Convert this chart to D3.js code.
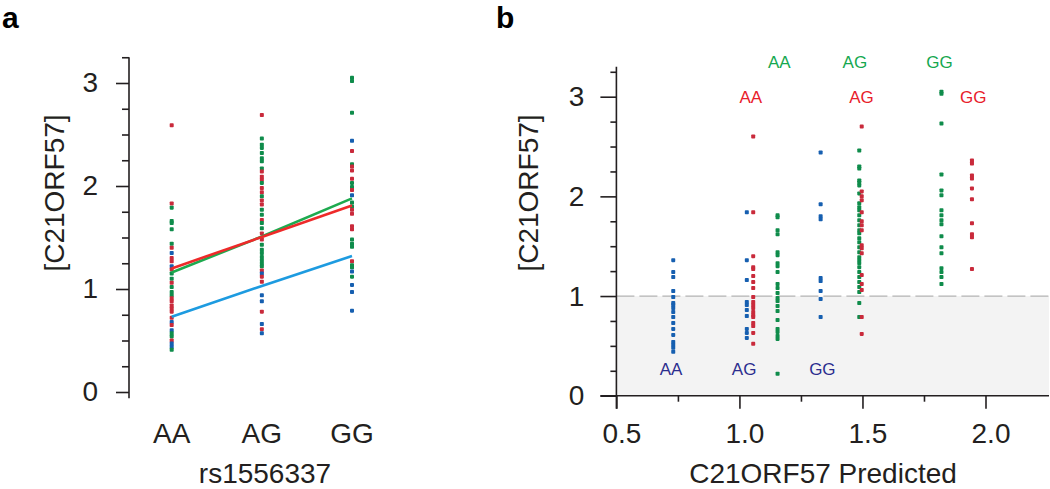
<!DOCTYPE html>
<html>
<head>
<meta charset="utf-8">
<script src="https://cdn.jsdelivr.net/npm/d3@7"></script>
<style>
body { margin: 0; background: #fff; }
svg { display: block; font-family: "Liberation Sans", Arial, sans-serif; }
.axis text { font-size: 28px; fill: #231f20; font-family: "Liberation Sans", Arial, sans-serif; }
.axis line { stroke: #231f20; stroke-width: 1.6; }
.axis path { display: none; }
</style>
</head>
<body>
<script>
// genotypes of rs1556337
var genotypes = ["AA", "AG", "GG"];

// panel a: measured values per genotype, [value, group]  (r = red, g = green, b = blue)
var aAA = [[2.59,"r"],[1.83,"r"],[1.79,"g"],[1.66,"g"],[1.64,"g"],[1.58,"g"],[1.44,"g"],[1.40,"r"],[1.35,"b"],[1.30,"r"],
           [1.27,"r"],[1.22,"b"],[1.19,"r"],[1.15,"g"],[1.10,"g"],[1.06,"r"],[1.02,"g"],[0.97,"g"],[0.94,"g"],[0.91,"r"],
           [0.88,"r"],[0.84,"r"],[0.81,"r"],[0.78,"r"],[0.72,"r"],[0.68,"b"],[0.65,"r"],[0.60,"b"],[0.57,"g"],[0.54,"g"],
           [0.50,"r"],[0.47,"b"],[0.44,"b"],[0.41,"g"]];
var aAG = [[2.69,"r"],[2.46,"g"],[2.40,"g"],[2.37,"g"],[2.32,"g"],[2.27,"g"],[2.24,"g"],[2.17,"g"],[2.14,"r"],[2.09,"r"],
           [2.06,"r"],[2.03,"g"],[1.98,"r"],[1.94,"r"],[1.90,"g"],[1.86,"r"],[1.82,"r"],[1.77,"g"],[1.72,"g"],[1.67,"r"],
           [1.64,"g"],[1.59,"g"],[1.54,"r"],[1.48,"r"],[1.43,"g"],[1.38,"g"],[1.35,"g"],[1.31,"g"],[1.28,"g"],[1.25,"g"],
           [1.22,"g"],[1.18,"r"],[1.15,"b"],[1.12,"r"],[1.07,"r"],[0.94,"b"],[0.88,"b"],[0.78,"r"],[0.66,"b"],[0.61,"r"],[0.57,"b"]];
var aGG = [[3.05,"g"],[3.02,"g"],[2.71,"g"],[2.44,"b"],[2.34,"r"],[2.21,"g"],[2.19,"r"],[2.15,"r"],[2.07,"r"],[2.03,"g"],
           [1.99,"g"],[1.96,"r"],[1.91,"b"],[1.84,"g"],[1.80,"g"],[1.77,"r"],[1.73,"r"],[1.61,"r"],[1.58,"r"],[1.48,"g"],
           [1.44,"g"],[1.41,"g"],[1.27,"r"],[1.23,"g"],[1.21,"g"],[1.17,"b"],[1.12,"g"],[1.04,"b"],[0.97,"b"],[0.79,"b"]];

// panel a: fitted lines at AA, AG, GG
var fitBlue  = [0.73, 1.03, 1.32];
var fitGreen = [1.16, 1.51, 1.88];
var fitRed   = [1.20, 1.505, 1.81];

// panel b: predicted value of each column and measured values
var predicted = {bAA: 0.731, bAG: 1.030, rAA: 1.056, gAA: 1.155, bGG: 1.330, gAG: 1.487, rAG: 1.497, gGG: 1.821, rGG: 1.945};
var bAA = [1.36,1.24,1.19,1.05,0.99,0.93,0.91,0.88,0.84,0.79,0.73,0.67,0.61,0.54,0.51,0.48,0.44];
var bAG = [1.84,1.36,1.16,0.94,0.91,0.86,0.80,0.67,0.63,0.58];
var rAA = [2.60,1.84,1.40,1.29,1.27,1.20,1.14,1.08,0.99,0.94,0.91,0.88,0.84,0.81,0.79,0.73,0.70,0.63,0.52];
var gAA = [1.81,1.79,1.66,1.62,1.44,1.41,1.33,1.30,1.24,1.12,1.08,1.03,0.98,0.95,0.90,0.85,0.76,0.67,0.64,0.60,0.57,0.22];
var bGG = [2.44,1.92,1.80,1.77,1.18,1.15,1.05,0.97,0.79];
var gAG = [2.46,2.30,2.28,2.16,2.14,2.11,2.03,1.93,1.89,1.86,1.81,1.76,1.71,1.66,1.63,1.58,1.54,1.49,1.44,1.39,
           1.36,1.33,1.29,1.24,1.19,1.14,1.09,1.04,0.93,0.79];
var rAG = [2.70,2.05,2.00,1.96,1.84,1.75,1.71,1.66,1.51,1.48,1.43,1.21,1.12,1.06,0.79,0.62];
var gGG = [3.05,3.03,2.73,2.22,2.06,2.01,1.86,1.81,1.76,1.72,1.60,1.49,1.43,1.28,1.24,1.19,1.12];
var rGG = [2.36,2.33,2.21,2.18,2.08,1.97,1.73,1.62,1.59,1.27];

// panel b: group labels [text, group, x (predicted units), y (value units)]
var groupLabels = [["AA","g",1.162,3.35],["AG","g",1.469,3.35],["GG","g",1.813,3.35],
                   ["AA","r",1.046,3.0],["AG","r",1.496,3.0],["GG","r",1.95,3.0],
                   ["AA","b",0.722,0.27],["AG","b",1.019,0.27],["GG","b",1.337,0.27]];

var dotColor = {r: "#c92a3b", g: "#0f8c4b", b: "#165fb0"};
var labelColor = {r: "#e8202a", g: "#15a84f", b: "#2b2d8e"};

var svg = d3.select("body").append("svg")
    .attr("width", 1050)
    .attr("height", 489);

// ---------- panel a ----------
var xA = d3.scalePoint().domain(genotypes).range([171.7, 352]);
var yA = d3.scaleLinear().domain([0, 3]).range([392, 83]);

svg.append("text").attr("x", 2).attr("y", 28)
    .style("font-size", "30px").style("font-weight", "bold").text("a");

var gA = svg.append("g");
gA.append("g").attr("class", "axis")
    .attr("transform", "translate(129,0)")
    .call(d3.axisLeft(yA).tickValues(d3.range(0.25, 3.3, 0.25).filter(function(d) { return d % 1 != 0; }))
        .tickSize(7).tickFormat(""));
gA.append("g").attr("class", "axis")
    .attr("transform", "translate(129,0)")
    .call(d3.axisLeft(yA).tickValues([0, 1, 2, 3]).tickSize(13).tickPadding(18).tickFormat(d3.format("d")));
gA.append("line")
    .attr("x1", 129).attr("x2", 129)
    .attr("y1", yA(-0.06)).attr("y2", yA(3.25))
    .attr("stroke", "#231f20").attr("stroke-width", 1.6);

var columnsA = [["AA", aAA], ["AG", aAG], ["GG", aGG]];
columnsA.forEach(function(c) {
    gA.selectAll(null).data(c[1]).enter().append("rect")
        .attr("x", xA(c[0]) - 2)
        .attr("y", function(d) { return yA(d[0]) - 2; })
        .attr("width", 4).attr("height", 4).attr("rx", 0.8)
        .attr("fill", function(d) { return dotColor[d[1]]; });
});

var line = d3.line()
    .x(function(d, i) { return xA(genotypes[i]); })
    .y(function(d) { return yA(d); });
[[fitBlue, "#1d9be0"], [fitGreen, "#1eaa4f"], [fitRed, "#ee2a2a"]].forEach(function(f) {
    gA.append("path").datum(f[0])
        .attr("d", line).attr("fill", "none")
        .attr("stroke", f[1]).attr("stroke-width", 2.6);
});

gA.selectAll(null).data(genotypes).enter().append("text")
    .attr("x", function(d) { return xA(d); })
    .attr("y", 443)
    .attr("text-anchor", "middle")
    .style("font-size", "28px").attr("fill", "#231f20")
    .text(function(d) { return d; });
gA.append("text").attr("x", 265).attr("y", 483)
    .attr("text-anchor", "middle").style("font-size", "28px").attr("fill", "#231f20")
    .text("rs1556337");
gA.append("text")
    .attr("transform", "translate(64,193) rotate(-90)")
    .attr("text-anchor", "middle").style("font-size", "28px").attr("fill", "#231f20")
    .text("[C21ORF57]");

// ---------- panel b ----------
var xB = d3.scaleLinear().domain([0.5, 2.0]).range([616.4, 985.5]);
var yB = d3.scaleLinear().domain([0, 3]).range([395.7, 96.7]);
var xEnd = 1049;

svg.append("text").attr("x", 496).attr("y", 28)
    .style("font-size", "30px").style("font-weight", "bold").text("b");

var gB = svg.append("g");
gB.append("rect")
    .attr("x", xB(0.5)).attr("y", yB(1))
    .attr("width", xEnd - xB(0.5)).attr("height", yB(0) - yB(1))
    .attr("fill", "#f3f3f3");
gB.append("line")
    .attr("x1", xB(0.5)).attr("x2", xEnd)
    .attr("y1", yB(1)).attr("y2", yB(1))
    .attr("stroke", "#b4b4b4").attr("stroke-width", 1.2)
    .attr("stroke-dasharray", "18,5");

gB.append("g").attr("class", "axis")
    .attr("transform", "translate(" + xB(0.5) + ",0)")
    .call(d3.axisLeft(yB).tickValues(d3.range(0.25, 3.3, 0.25).filter(function(d) { return d % 1 != 0; }))
        .tickSize(6).tickFormat(""));
gB.append("g").attr("class", "axis")
    .attr("transform", "translate(" + xB(0.5) + ",0)")
    .call(d3.axisLeft(yB).tickValues([0, 1, 2, 3]).tickSize(16).tickPadding(16).tickFormat(d3.format("d")));
gB.append("g").attr("class", "axis")
    .attr("transform", "translate(0," + yB(0) + ")")
    .call(d3.axisBottom(xB).tickValues([0.75, 1.25, 1.75]).tickSize(6).tickFormat(""));
var xAxisB = gB.append("g").attr("class", "axis")
    .attr("transform", "translate(0," + yB(0) + ")")
    .call(d3.axisBottom(xB).tickValues([0.5, 1.0, 1.5, 2.0]).tickSize(13).tickPadding(14).tickFormat(d3.format(".1f")));
xAxisB.selectAll("text").attr("dx", 5);
gB.append("line")
    .attr("x1", xB(0.5)).attr("x2", xB(0.5))
    .attr("y1", yB(0) + 13).attr("y2", yB(3.3))
    .attr("stroke", "#231f20").attr("stroke-width", 1.6);
gB.append("line")
    .attr("x1", xB(0.5) - 16).attr("x2", xEnd)
    .attr("y1", yB(0)).attr("y2", yB(0))
    .attr("stroke", "#231f20").attr("stroke-width", 1.6);

var columnsB = [["bAA", bAA, "b"], ["bAG", bAG, "b"], ["rAA", rAA, "r"], ["gAA", gAA, "g"], ["bGG", bGG, "b"],
                ["gAG", gAG, "g"], ["rAG", rAG, "r"], ["gGG", gGG, "g"], ["rGG", rGG, "r"]];
columnsB.forEach(function(c) {
    gB.selectAll(null).data(c[1]).enter().append("rect")
        .attr("x", xB(predicted[c[0]]) - 2)
        .attr("y", function(d) { return yB(d) - 2; })
        .attr("width", 4).attr("height", 4).attr("rx", 0.8)
        .attr("fill", dotColor[c[2]]);
});

gB.selectAll(null).data(groupLabels).enter().append("text")
    .attr("x", function(d) { return xB(d[2]); })
    .attr("y", function(d) { return yB(d[3]); })
    .attr("dy", "0.35em")
    .attr("text-anchor", "middle")
    .style("font-size", "17px")
    .attr("fill", function(d) { return labelColor[d[1]]; })
    .text(function(d) { return d[0]; });

gB.append("text").attr("x", 823).attr("y", 483)
    .attr("text-anchor", "middle").style("font-size", "28px").attr("fill", "#231f20")
    .text("C21ORF57 Predicted");
gB.append("text")
    .attr("transform", "translate(538,193) rotate(-90)")
    .attr("text-anchor", "middle").style("font-size", "28px").attr("fill", "#231f20")
    .text("[C21ORF57]");
</script>
</body>
</html>
